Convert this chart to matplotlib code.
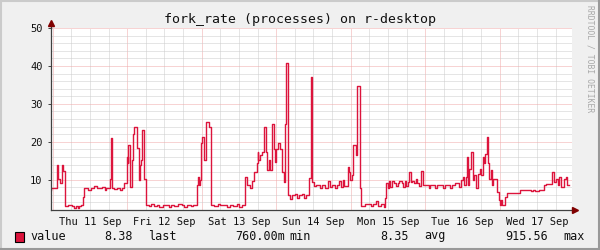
import matplotlib
matplotlib.use("Agg")
import matplotlib.pyplot as plt
from matplotlib.patches import Rectangle
from matplotlib.lines import Line2D

# fork rate samples: hours since Thu 11 Sep 00:00, each value holds until the next entry
hours = [
    -0.6, -0.4, 1.3, 1.5, 1.8, 2.3, 3.0, 3.3, 3.9, 5.0, 6.2, 6.9, 7.6, 8.2, 8.6, 9.2, 9.6,
    10.1, 11.3, 12.2, 13.3, 14.2, 16.0, 16.7, 17.3, 18.4, 18.7, 19.1, 19.7, 20.7, 21.6, 22.2, 23.0,
    23.9, 24.1, 24.3, 24.8, 25.0, 25.6, 26.0, 26.2, 27.3, 27.8, 28.0, 28.4, 28.8, 29.3,
    29.9, 31.0, 31.6, 32.5, 33.5, 34.4, 35.5, 36.6, 37.4, 38.0, 39.2, 40.3, 41.5, 42.4, 43.2, 44.5, 45.3,
    46.4, 46.7, 47.0, 47.4, 47.8, 48.2, 48.9, 49.3, 50.2,
    50.9, 52.0, 53.1, 54.0, 55.2, 56.3, 57.0, 58.2, 59.3, 60.1, 61.0,
    62.0, 62.6, 63.5, 64.1, 65.0, 65.8, 66.0, 66.3, 66.7, 67.5, 68.2, 68.8, 69.05, 69.7, 70.1,
    70.5, 71.2, 71.6, 72.0, 72.7, 73.3, 73.9, 74.4, 74.8, 75.3,
    75.7, 76.6, 77.2, 78.1, 78.7, 79.4, 80.2, 81.1, 81.7, 82.6, 83.2, 83.6, 84.3,
    84.7, 86.1, 86.7, 87.6, 88.7, 89.3, 89.9, 90.8, 91.5, 92.3, 92.9, 93.6, 94.0,
    95.1, 95.5, 95.9, 96.4, 96.8, 97.7, 98.1, 99.0,
    99.4, 100.5, 102.6, 103.3, 104.3, 104.8, 105.8, 106.6, 107.0,
    107.4, 107.9, 108.3, 108.7, 109.2, 109.8, 110.6, 111.1, 111.7, 112.4, 113.0, 113.4, 113.9,
    114.5, 114.9, 115.4, 115.8, 116.4, 117.1, 117.5, 117.9, 118.6, 119.4, 121.2, 121.6, 123.3,
    123.7, 125.9, 126.3, 127.9, 128.7, 129.5, 131.0, 131.4, 132.1, 132.5, 133.0, 133.4, 133.8,
    134.2, 134.9, 135.3, 135.7, 136.4, 137.0, 137.7, 138.1, 138.5, 138.9, 139.4, 139.8, 140.2,
    140.7, 141.1, 141.5, 141.9, 143.2, 143.7, 144.1, 144.5, 144.9, 145.6, 146.2,
    150.5, 151.8, 154.0, 154.6, 155.5, 156.8, 158.3, 158.9, 161.0, 161.5, 162.1, 162.7, 163.2,
    163.6, 164.7, 165.3, 165.7,
]
rate = [
    7.4, 7.9, 10.4, 14.0, 10.3, 9.2, 14.0, 12.3, 3.0, 3.2, 3.0, 2.5, 3.0, 2.6, 3.1, 3.4, 5.3,
    7.9, 7.3, 7.9, 8.3, 7.9, 8.0, 7.4, 7.9, 10.2, 20.9, 7.9, 7.6, 7.7, 7.2, 7.7, 9.0,
    16.0, 14.5, 19.1, 15.2, 8.0, 15.2, 22.0, 24.0, 18.3, 9.9, 13.9, 15.2, 23.1, 10.3,
    3.4, 3.0, 3.6, 3.1, 3.4, 2.8, 3.3, 3.3, 2.7, 3.4, 3.0, 3.5, 3.2, 2.8, 3.3, 3.0, 3.4,
    8.6, 10.8, 8.6, 9.9, 19.6, 21.3, 15.2, 25.3, 24.0,
    3.3, 3.0, 3.5, 3.2, 3.4, 2.9, 3.4, 3.1, 3.5, 2.8, 3.3,
    10.8, 8.6, 7.7, 9.6, 12.1, 14.5, 17.2, 15.1, 16.4, 17.2, 23.9, 17.2, 12.5, 15.1, 12.5,
    24.8, 18.2, 14.7, 18.2, 19.6, 18.2, 12.1, 9.4, 24.8, 40.7,
    5.9, 4.9, 5.9, 6.3, 5.2, 5.9, 6.2, 5.2, 5.9, 10.5, 37.2, 9.4, 8.2,
    8.7, 7.7, 8.7, 7.7, 9.6, 8.1, 8.5, 7.9, 8.7, 9.6, 8.1, 9.9, 8.4,
    13.4, 12.1, 9.9, 11.2, 19.1, 16.5, 34.8, 7.7,
    3.1, 3.7, 3.1, 3.7, 4.3, 3.1, 3.7, 2.9, 5.1,
    9.0, 7.7, 9.7, 8.0, 9.7, 9.2, 8.3, 9.2, 9.7, 9.2, 8.0, 9.7, 8.3,
    9.5, 12.1, 9.5, 9.7, 9.0, 10.3, 9.0, 8.3, 12.4, 8.6, 7.7, 8.6, 7.7,
    8.6, 7.7, 8.6, 7.7, 8.6, 9.0, 8.0, 9.9, 10.7, 8.6, 10.7, 16.0, 8.6,
    12.9, 17.4, 9.9, 11.2, 7.7, 11.6, 12.9, 11.2, 16.0, 14.3, 16.9, 21.3, 14.3,
    10.3, 12.5, 8.6, 10.3, 6.8, 4.6, 3.3, 4.6, 3.3, 5.5, 6.4,
    7.3, 7.4, 7.1, 7.4, 7.1, 7.4, 8.6, 8.9, 12.1, 9.5, 10.3, 8.6, 10.7,
    8.0, 10.3, 10.7, 8.6,
]
end_hour = 166.2

day_labels = ["Thu 11 Sep", "Fri 12 Sep", "Sat 13 Sep", "Sun 14 Sep",
              "Mon 15 Sep", "Tue 16 Sep", "Wed 17 Sep"]
y_labels = [10, 20, 30, 40, 50]

LINE = "#DC143C"
MONO = "DejaVu Sans Mono"

fig = plt.figure(figsize=(6, 2.5), dpi=100, facecolor="#F0F0F0")
ax = fig.add_axes([51 / 600, 40 / 250, 521 / 600, 182 / 250])
ax.set_facecolor("white")

ax.set_xlim(-0.55, 167.3)
ax.set_ylim(2, 50)

# grid: minor every 6 h / 2 units, major at midnight / 10 units
for h in range(0, 168, 6):
    major = h % 24 == 0
    ax.axvline(h, color="#F0A8A8" if major else "#CCCCCC", lw=0.72,
               ls=(0, (1, 1)), zorder=1)
for v in range(4, 51, 2):
    major = v % 10 == 0
    ax.axhline(v, color="#F0A8A8" if major else "#CCCCCC", lw=0.72,
               ls=(0, (1, 1)), zorder=1)

ax.step(hours + [end_hour], rate + [rate[-1]], where="post", color=LINE,
        lw=1.0, zorder=3)

for s in ["top", "right"]:
    ax.spines[s].set_visible(False)
for s in ["left", "bottom"]:
    ax.spines[s].set_color("#404040")
    ax.spines[s].set_linewidth(0.9)
    ax.spines[s].set_zorder(4)

ax.set_xticks([12 + 24 * i for i in range(len(day_labels))], day_labels)
ax.set_yticks(y_labels, [str(v) for v in y_labels])
ax.tick_params(axis="x", length=0, pad=5, labelsize=7.5)
ax.tick_params(axis="y", length=2, width=0.7, color="#404040", pad=4, labelsize=7.5)
for lab in ax.get_xticklabels() + ax.get_yticklabels():
    lab.set_family(MONO)
    lab.set_color("#101010")

# axis arrows
ax.add_line(Line2D([0, 0], [1, 1.025], transform=ax.transAxes, color="#404040",
                   lw=0.9, clip_on=False))
ax.plot([0], [1.025], marker="^", ms=4.5, color="#800000", transform=ax.transAxes,
        clip_on=False, zorder=5)
ax.add_line(Line2D([1, 1.006], [0, 0], transform=ax.transAxes, color="#404040",
                   lw=0.9, clip_on=False))
ax.plot([1.006], [0], marker=">", ms=4.5, color="#800000", transform=ax.transAxes,
        clip_on=False, zorder=5)

fig.text(0.5, 1 - 19 / 250, "fork_rate (processes) on r-desktop", family=MONO,
         fontsize=9.5, ha="center", va="center", color="#101010")
fig.text(590 / 600, 1 - 59 / 250, "RRDTOOL / TOBI OETIKER", family=MONO,
         fontsize=5.8, rotation=270, ha="center", va="center", color="#A8A8A8")

# legend line
ly = 1 - 236 / 250
fig.add_artist(Rectangle((15 / 600, 1 - 242 / 250), 9 / 600, 10 / 250,
                         transform=fig.transFigure, facecolor=LINE,
                         edgecolor="black", lw=0.8))
legend_parts = [
    (30, "value", "left"), (133, "8.38", "right"), (148, "last", "left"),
    (285, "760.00m", "right"), (289, "min", "left"), (409, "8.35", "right"),
    (424, "avg", "left"), (548, "915.56", "right"), (563, "max", "left"),
]
for px, txt, ha in legend_parts:
    fig.text(px / 600, ly, txt, family=MONO, fontsize=8.5, ha=ha, va="center",
             color="#101010")

# shaded frame
fig.add_artist(Line2D([0, 1], [1 - 1 / 250] * 2, transform=fig.transFigure,
                      color="#CBCBCB", lw=1.5))
fig.add_artist(Line2D([1 / 600] * 2, [0, 1], transform=fig.transFigure,
                      color="#CBCBCB", lw=1.5))
fig.add_artist(Line2D([0, 1], [1 / 250] * 2, transform=fig.transFigure,
                      color="#999999", lw=1.5))
fig.add_artist(Line2D([1 - 1 / 600] * 2, [0, 1], transform=fig.transFigure,
                      color="#999999", lw=1.5))

fig.savefig("out.png", dpi=100, facecolor=fig.get_facecolor())
